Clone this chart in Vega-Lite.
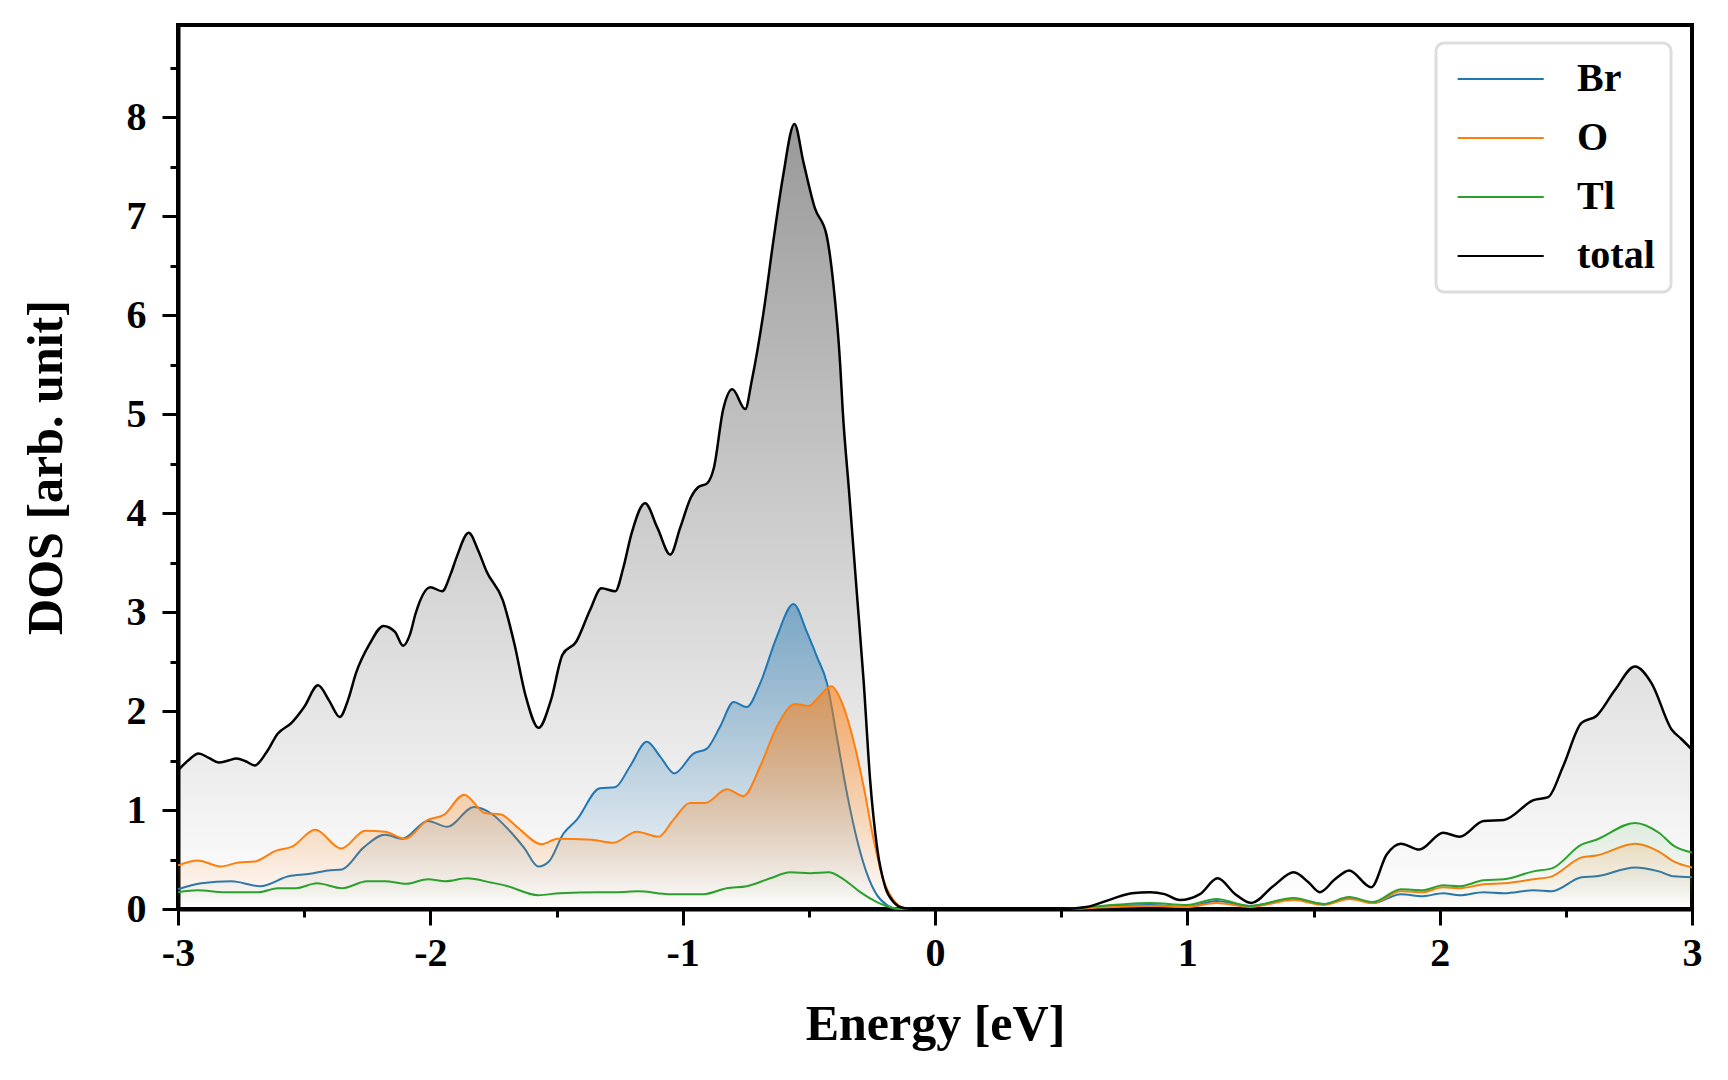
{
  "$schema": "https://vega.github.io/schema/vega-lite/v6.json",
  "width": 1514,
  "height": 884,
  "autosize": {"type": "none"},
  "padding": {"left": 178, "top": 25, "right": 36, "bottom": 171},
  "background": "white",
  "datasets": {
    "total": [
      {"e": -3.0, "dos": 1.40}, {"e": -2.96, "dos": 1.50}, {"e": -2.918, "dos": 1.57}, {"e": -2.88, "dos": 1.53},
      {"e": -2.838, "dos": 1.48}, {"e": -2.80, "dos": 1.50}, {"e": -2.769, "dos": 1.52}, {"e": -2.73, "dos": 1.49},
      {"e": -2.696, "dos": 1.45}, {"e": -2.65, "dos": 1.58}, {"e": -2.605, "dos": 1.77}, {"e": -2.55, "dos": 1.88},
      {"e": -2.50, "dos": 2.04}, {"e": -2.445, "dos": 2.26}, {"e": -2.40, "dos": 2.10}, {"e": -2.359, "dos": 1.94},
      {"e": -2.325, "dos": 2.12}, {"e": -2.295, "dos": 2.38}, {"e": -2.24, "dos": 2.68}, {"e": -2.186, "dos": 2.86},
      {"e": -2.14, "dos": 2.80}, {"e": -2.108, "dos": 2.66}, {"e": -2.08, "dos": 2.78}, {"e": -2.059, "dos": 2.98},
      {"e": -2.0, "dos": 3.25}, {"e": -1.953, "dos": 3.21}, {"e": -1.92, "dos": 3.38}, {"e": -1.895, "dos": 3.56},
      {"e": -1.848, "dos": 3.80}, {"e": -1.81, "dos": 3.62}, {"e": -1.777, "dos": 3.41}, {"e": -1.713, "dos": 3.12},
      {"e": -1.667, "dos": 2.68}, {"e": -1.622, "dos": 2.15}, {"e": -1.571, "dos": 1.83}, {"e": -1.522, "dos": 2.11},
      {"e": -1.476, "dos": 2.57}, {"e": -1.422, "dos": 2.70}, {"e": -1.367, "dos": 3.02}, {"e": -1.322, "dos": 3.24},
      {"e": -1.267, "dos": 3.21}, {"e": -1.235, "dos": 3.45}, {"e": -1.203, "dos": 3.79}, {"e": -1.149, "dos": 4.10},
      {"e": -1.10, "dos": 3.85}, {"e": -1.049, "dos": 3.58}, {"e": -1.01, "dos": 3.85}, {"e": -0.967, "dos": 4.16},
      {"e": -0.939, "dos": 4.26}, {"e": -0.903, "dos": 4.30}, {"e": -0.876, "dos": 4.46}, {"e": -0.84, "dos": 5.04},
      {"e": -0.803, "dos": 5.25}, {"e": -0.752, "dos": 5.05}, {"e": -0.726, "dos": 5.34}, {"e": -0.68, "dos": 6.02},
      {"e": -0.64, "dos": 6.76}, {"e": -0.603, "dos": 7.39}, {"e": -0.557, "dos": 7.93}, {"e": -0.521, "dos": 7.54},
      {"e": -0.476, "dos": 7.08}, {"e": -0.43, "dos": 6.81}, {"e": -0.403, "dos": 6.32}, {"e": -0.376, "dos": 5.51},
      {"e": -0.366, "dos": 5.05}, {"e": -0.34, "dos": 4.20}, {"e": -0.31, "dos": 3.20}, {"e": -0.283, "dos": 2.31},
      {"e": -0.257, "dos": 1.30}, {"e": -0.23, "dos": 0.63}, {"e": -0.197, "dos": 0.22}, {"e": -0.164, "dos": 0.07},
      {"e": -0.124, "dos": 0.01}, {"e": -0.08, "dos": 0}, {"e": 0.0, "dos": 0}, {"e": 0.5, "dos": 0},
      {"e": 0.6, "dos": 0.02}, {"e": 0.70, "dos": 0.10}, {"e": 0.78, "dos": 0.16}, {"e": 0.853, "dos": 0.17},
      {"e": 0.91, "dos": 0.15}, {"e": 0.97, "dos": 0.09}, {"e": 1.05, "dos": 0.15}, {"e": 1.12, "dos": 0.31},
      {"e": 1.19, "dos": 0.15}, {"e": 1.253, "dos": 0.06}, {"e": 1.34, "dos": 0.23}, {"e": 1.422, "dos": 0.37},
      {"e": 1.48, "dos": 0.27}, {"e": 1.525, "dos": 0.17}, {"e": 1.585, "dos": 0.30}, {"e": 1.641, "dos": 0.39},
      {"e": 1.729, "dos": 0.22}, {"e": 1.79, "dos": 0.55}, {"e": 1.846, "dos": 0.66}, {"e": 1.919, "dos": 0.60},
      {"e": 2.014, "dos": 0.77}, {"e": 2.079, "dos": 0.73}, {"e": 2.174, "dos": 0.89}, {"e": 2.255, "dos": 0.90},
      {"e": 2.372, "dos": 1.10}, {"e": 2.43, "dos": 1.13}, {"e": 2.489, "dos": 1.44}, {"e": 2.562, "dos": 1.88},
      {"e": 2.621, "dos": 1.95}, {"e": 2.694, "dos": 2.21}, {"e": 2.774, "dos": 2.45}, {"e": 2.84, "dos": 2.28},
      {"e": 2.92, "dos": 1.81}, {"e": 2.957, "dos": 1.72}, {"e": 3.0, "dos": 1.61}
    ],
    "br": [
      {"e": -3.0, "dos": 0.20}, {"e": -2.908, "dos": 0.26}, {"e": -2.788, "dos": 0.28}, {"e": -2.675, "dos": 0.23},
      {"e": -2.562, "dos": 0.33}, {"e": -2.477, "dos": 0.355}, {"e": -2.406, "dos": 0.39}, {"e": -2.35, "dos": 0.40},
      {"e": -2.265, "dos": 0.62}, {"e": -2.18, "dos": 0.75}, {"e": -2.11, "dos": 0.71}, {"e": -2.01, "dos": 0.89},
      {"e": -1.933, "dos": 0.83}, {"e": -1.827, "dos": 1.03}, {"e": -1.756, "dos": 0.96}, {"e": -1.686, "dos": 0.79},
      {"e": -1.629, "dos": 0.62}, {"e": -1.572, "dos": 0.43}, {"e": -1.53, "dos": 0.48}, {"e": -1.473, "dos": 0.76},
      {"e": -1.42, "dos": 0.90}, {"e": -1.328, "dos": 1.22}, {"e": -1.268, "dos": 1.23}, {"e": -1.209, "dos": 1.44},
      {"e": -1.142, "dos": 1.69}, {"e": -1.089, "dos": 1.54}, {"e": -1.033, "dos": 1.37}, {"e": -0.957, "dos": 1.57},
      {"e": -0.904, "dos": 1.62}, {"e": -0.852, "dos": 1.84}, {"e": -0.798, "dos": 2.09}, {"e": -0.746, "dos": 2.04},
      {"e": -0.693, "dos": 2.28}, {"e": -0.627, "dos": 2.75}, {"e": -0.561, "dos": 3.08}, {"e": -0.508, "dos": 2.80},
      {"e": -0.468, "dos": 2.55}, {"e": -0.428, "dos": 2.28}, {"e": -0.389, "dos": 1.74}, {"e": -0.349, "dos": 1.17},
      {"e": -0.309, "dos": 0.70}, {"e": -0.27, "dos": 0.36}, {"e": -0.23, "dos": 0.14}, {"e": -0.19, "dos": 0.04},
      {"e": -0.15, "dos": 0}, {"e": 0.5, "dos": 0}, {"e": 0.7, "dos": 0.03}, {"e": 0.853, "dos": 0.04},
      {"e": 0.999, "dos": 0.02}, {"e": 1.115, "dos": 0.08}, {"e": 1.247, "dos": 0.03}, {"e": 1.422, "dos": 0.10},
      {"e": 1.539, "dos": 0.05}, {"e": 1.641, "dos": 0.11}, {"e": 1.736, "dos": 0.06}, {"e": 1.846, "dos": 0.15},
      {"e": 1.933, "dos": 0.13}, {"e": 2.014, "dos": 0.16}, {"e": 2.079, "dos": 0.14}, {"e": 2.174, "dos": 0.17},
      {"e": 2.255, "dos": 0.16}, {"e": 2.372, "dos": 0.19}, {"e": 2.445, "dos": 0.18}, {"e": 2.562, "dos": 0.32},
      {"e": 2.621, "dos": 0.33}, {"e": 2.774, "dos": 0.42}, {"e": 2.869, "dos": 0.38}, {"e": 2.927, "dos": 0.33},
      {"e": 3.0, "dos": 0.32}
    ],
    "o": [
      {"e": -3.0, "dos": 0.44}, {"e": -2.922, "dos": 0.49}, {"e": -2.83, "dos": 0.43}, {"e": -2.76, "dos": 0.47},
      {"e": -2.696, "dos": 0.48}, {"e": -2.611, "dos": 0.59}, {"e": -2.548, "dos": 0.63}, {"e": -2.456, "dos": 0.80},
      {"e": -2.353, "dos": 0.61}, {"e": -2.258, "dos": 0.79}, {"e": -2.18, "dos": 0.78}, {"e": -2.102, "dos": 0.71},
      {"e": -2.01, "dos": 0.90}, {"e": -1.947, "dos": 0.95}, {"e": -1.866, "dos": 1.155}, {"e": -1.784, "dos": 0.97},
      {"e": -1.72, "dos": 0.955}, {"e": -1.657, "dos": 0.83}, {"e": -1.558, "dos": 0.655}, {"e": -1.495, "dos": 0.71},
      {"e": -1.36, "dos": 0.70}, {"e": -1.275, "dos": 0.67}, {"e": -1.182, "dos": 0.78}, {"e": -1.096, "dos": 0.73},
      {"e": -1.037, "dos": 0.90}, {"e": -0.971, "dos": 1.07}, {"e": -0.911, "dos": 1.07}, {"e": -0.825, "dos": 1.21},
      {"e": -0.759, "dos": 1.14}, {"e": -0.693, "dos": 1.44}, {"e": -0.627, "dos": 1.84}, {"e": -0.554, "dos": 2.07},
      {"e": -0.501, "dos": 2.05}, {"e": -0.461, "dos": 2.14}, {"e": -0.412, "dos": 2.25}, {"e": -0.362, "dos": 2.04},
      {"e": -0.323, "dos": 1.70}, {"e": -0.283, "dos": 1.24}, {"e": -0.243, "dos": 0.70}, {"e": -0.204, "dos": 0.29},
      {"e": -0.164, "dos": 0.09}, {"e": -0.124, "dos": 0.01}, {"e": -0.08, "dos": 0}, {"e": 0.5, "dos": 0},
      {"e": 0.7, "dos": 0.02}, {"e": 0.853, "dos": 0.03}, {"e": 0.999, "dos": 0.02}, {"e": 1.115, "dos": 0.06},
      {"e": 1.247, "dos": 0.02}, {"e": 1.422, "dos": 0.09}, {"e": 1.539, "dos": 0.04}, {"e": 1.641, "dos": 0.10},
      {"e": 1.736, "dos": 0.06}, {"e": 1.846, "dos": 0.18}, {"e": 1.933, "dos": 0.17}, {"e": 2.014, "dos": 0.22},
      {"e": 2.079, "dos": 0.21}, {"e": 2.174, "dos": 0.25}, {"e": 2.255, "dos": 0.26}, {"e": 2.372, "dos": 0.30},
      {"e": 2.445, "dos": 0.33}, {"e": 2.562, "dos": 0.52}, {"e": 2.621, "dos": 0.54}, {"e": 2.774, "dos": 0.66},
      {"e": 2.869, "dos": 0.58}, {"e": 2.927, "dos": 0.48}, {"e": 3.0, "dos": 0.42}
    ],
    "tl": [
      {"e": -3.0, "dos": 0.17}, {"e": -2.922, "dos": 0.19}, {"e": -2.816, "dos": 0.17}, {"e": -2.682, "dos": 0.17},
      {"e": -2.604, "dos": 0.21}, {"e": -2.533, "dos": 0.21}, {"e": -2.449, "dos": 0.26}, {"e": -2.35, "dos": 0.21},
      {"e": -2.251, "dos": 0.28}, {"e": -2.18, "dos": 0.28}, {"e": -2.095, "dos": 0.255}, {"e": -2.01, "dos": 0.30},
      {"e": -1.94, "dos": 0.28}, {"e": -1.855, "dos": 0.31}, {"e": -1.756, "dos": 0.265}, {"e": -1.7, "dos": 0.235},
      {"e": -1.572, "dos": 0.14}, {"e": -1.488, "dos": 0.16}, {"e": -1.332, "dos": 0.17}, {"e": -1.262, "dos": 0.17},
      {"e": -1.176, "dos": 0.18}, {"e": -1.05, "dos": 0.15}, {"e": -0.918, "dos": 0.15}, {"e": -0.825, "dos": 0.21},
      {"e": -0.746, "dos": 0.23}, {"e": -0.653, "dos": 0.31}, {"e": -0.574, "dos": 0.37}, {"e": -0.495, "dos": 0.36},
      {"e": -0.422, "dos": 0.37}, {"e": -0.362, "dos": 0.30}, {"e": -0.296, "dos": 0.17}, {"e": -0.23, "dos": 0.07},
      {"e": -0.164, "dos": 0.01}, {"e": -0.12, "dos": 0}, {"e": 0.5, "dos": 0}, {"e": 0.7, "dos": 0.04},
      {"e": 0.853, "dos": 0.06}, {"e": 0.999, "dos": 0.04}, {"e": 1.115, "dos": 0.10}, {"e": 1.247, "dos": 0.03},
      {"e": 1.422, "dos": 0.11}, {"e": 1.539, "dos": 0.05}, {"e": 1.641, "dos": 0.12}, {"e": 1.736, "dos": 0.07},
      {"e": 1.846, "dos": 0.20}, {"e": 1.933, "dos": 0.19}, {"e": 2.014, "dos": 0.24}, {"e": 2.079, "dos": 0.23},
      {"e": 2.174, "dos": 0.29}, {"e": 2.255, "dos": 0.30}, {"e": 2.372, "dos": 0.38}, {"e": 2.445, "dos": 0.41},
      {"e": 2.562, "dos": 0.65}, {"e": 2.621, "dos": 0.70}, {"e": 2.774, "dos": 0.87}, {"e": 2.869, "dos": 0.77},
      {"e": 2.927, "dos": 0.64}, {"e": 3.0, "dos": 0.57}
    ]
  },
  "encoding": {
    "x": {
      "field": "e",
      "type": "quantitative",
      "scale": {"domain": [-3, 3], "nice": false, "zero": false},
      "axis": {
        "title": "Energy [eV]",
        "values": [-3, -2.5, -2, -1.5, -1, -0.5, 0, 0.5, 1, 1.5, 2, 2.5, 3],
        "labelExpr": "datum.value % 1 === 0 ? '' + datum.value : ''",
        "tickSize": {"condition": {"test": "datum.value % 1 === 0", "value": 16}, "value": 8},
        "labelPadding": 8,
        "titlePadding": 26,
        "labelFlush": false,
        "labelOverlap": false
      }
    },
    "y": {
      "field": "dos",
      "type": "quantitative",
      "stack": null,
      "scale": {"domain": [0, 8.93], "nice": false},
      "axis": {
        "title": "DOS [arb. unit]",
        "values": [0, 0.5, 1, 1.5, 2, 2.5, 3, 3.5, 4, 4.5, 5, 5.5, 6, 6.5, 7, 7.5, 8, 8.5],
        "labelExpr": "datum.value % 1 === 0 ? '' + datum.value : ''",
        "tickSize": {"condition": {"test": "datum.value % 1 === 0", "value": 16}, "value": 8},
        "labelPadding": 16,
        "titlePadding": 55,
        "labelOverlap": false
      }
    }
  },
  "layer": [
    {
      "data": {"name": "total"},
      "mark": {
        "type": "area",
        "interpolate": "monotone",
        "color": {
          "gradient": "linear", "x1": 0, "y1": 0, "x2": 0, "y2": 1,
          "stops": [
            {"offset": 0, "color": "rgba(0,0,0,0.4)"},
            {"offset": 1, "color": "rgba(0,0,0,0)"}
          ]
        }
      }
    },
    {
      "data": {"name": "br"},
      "mark": {
        "type": "area",
        "interpolate": "monotone",
        "color": {
          "gradient": "linear", "x1": 0, "y1": 0, "x2": 0, "y2": 1,
          "stops": [
            {"offset": 0, "color": "rgba(31,119,180,0.5)"},
            {"offset": 1, "color": "rgba(31,119,180,0)"}
          ]
        }
      }
    },
    {
      "data": {"name": "br"},
      "mark": {"type": "line", "interpolate": "monotone", "strokeWidth": 2},
      "encoding": {
        "color": {
          "datum": "Br",
          "type": "nominal",
          "scale": {"domain": ["Br", "O", "Tl", "total"], "range": ["#1f77b4", "#ff7f0e", "#2ca02c", "#000000"]}
        }
      }
    },
    {
      "data": {"name": "o"},
      "mark": {
        "type": "area",
        "interpolate": "monotone",
        "color": {
          "gradient": "linear", "x1": 0, "y1": 0, "x2": 0, "y2": 1,
          "stops": [
            {"offset": 0, "color": "rgba(255,127,14,0.6)"},
            {"offset": 1, "color": "rgba(255,127,14,0)"}
          ]
        }
      }
    },
    {
      "data": {"name": "o"},
      "mark": {"type": "line", "interpolate": "monotone", "strokeWidth": 2},
      "encoding": {"color": {"datum": "O", "type": "nominal"}}
    },
    {
      "data": {"name": "tl"},
      "mark": {
        "type": "area",
        "interpolate": "monotone",
        "color": {
          "gradient": "linear", "x1": 0, "y1": 0, "x2": 0, "y2": 1,
          "stops": [
            {"offset": 0, "color": "rgba(44,160,44,0.1)"},
            {"offset": 1, "color": "rgba(44,160,44,0)"}
          ]
        }
      }
    },
    {
      "data": {"name": "tl"},
      "mark": {"type": "line", "interpolate": "monotone", "strokeWidth": 2},
      "encoding": {"color": {"datum": "Tl", "type": "nominal"}}
    },
    {
      "data": {"name": "total"},
      "mark": {"type": "line", "interpolate": "monotone", "strokeWidth": 2.5},
      "encoding": {"color": {"datum": "total", "type": "nominal"}}
    }
  ],
  "config": {
    "font": "Liberation Serif",
    "view": {"stroke": "black", "strokeWidth": 4},
    "axis": {
      "grid": false,
      "labelFont": "Liberation Serif",
      "labelFontSize": 40,
      "labelFontWeight": "bold",
      "labelColor": "black",
      "titleFont": "Liberation Serif",
      "titleFontSize": 50,
      "titleFontWeight": "bold",
      "titleColor": "black",
      "domainColor": "black",
      "domainWidth": 4,
      "tickColor": "black",
      "tickWidth": 3
    },
    "legend": {
      "orient": "none",
      "legendX": 1258,
      "legendY": 18,
      "title": null,
      "fillColor": "white",
      "strokeColor": "#dddddd",
      "strokeWidth": 3,
      "cornerRadius": 8,
      "padding": 16,
      "symbolType": "M-1,0H5",
      "symbolStrokeWidth": 2,
      "symbolSize": 823,
      "labelFont": "Liberation Serif",
      "labelFontSize": 40,
      "labelFontWeight": "bold",
      "labelColor": "black",
      "labelOffset": 85,
      "rowPadding": 19
    }
  }
}
